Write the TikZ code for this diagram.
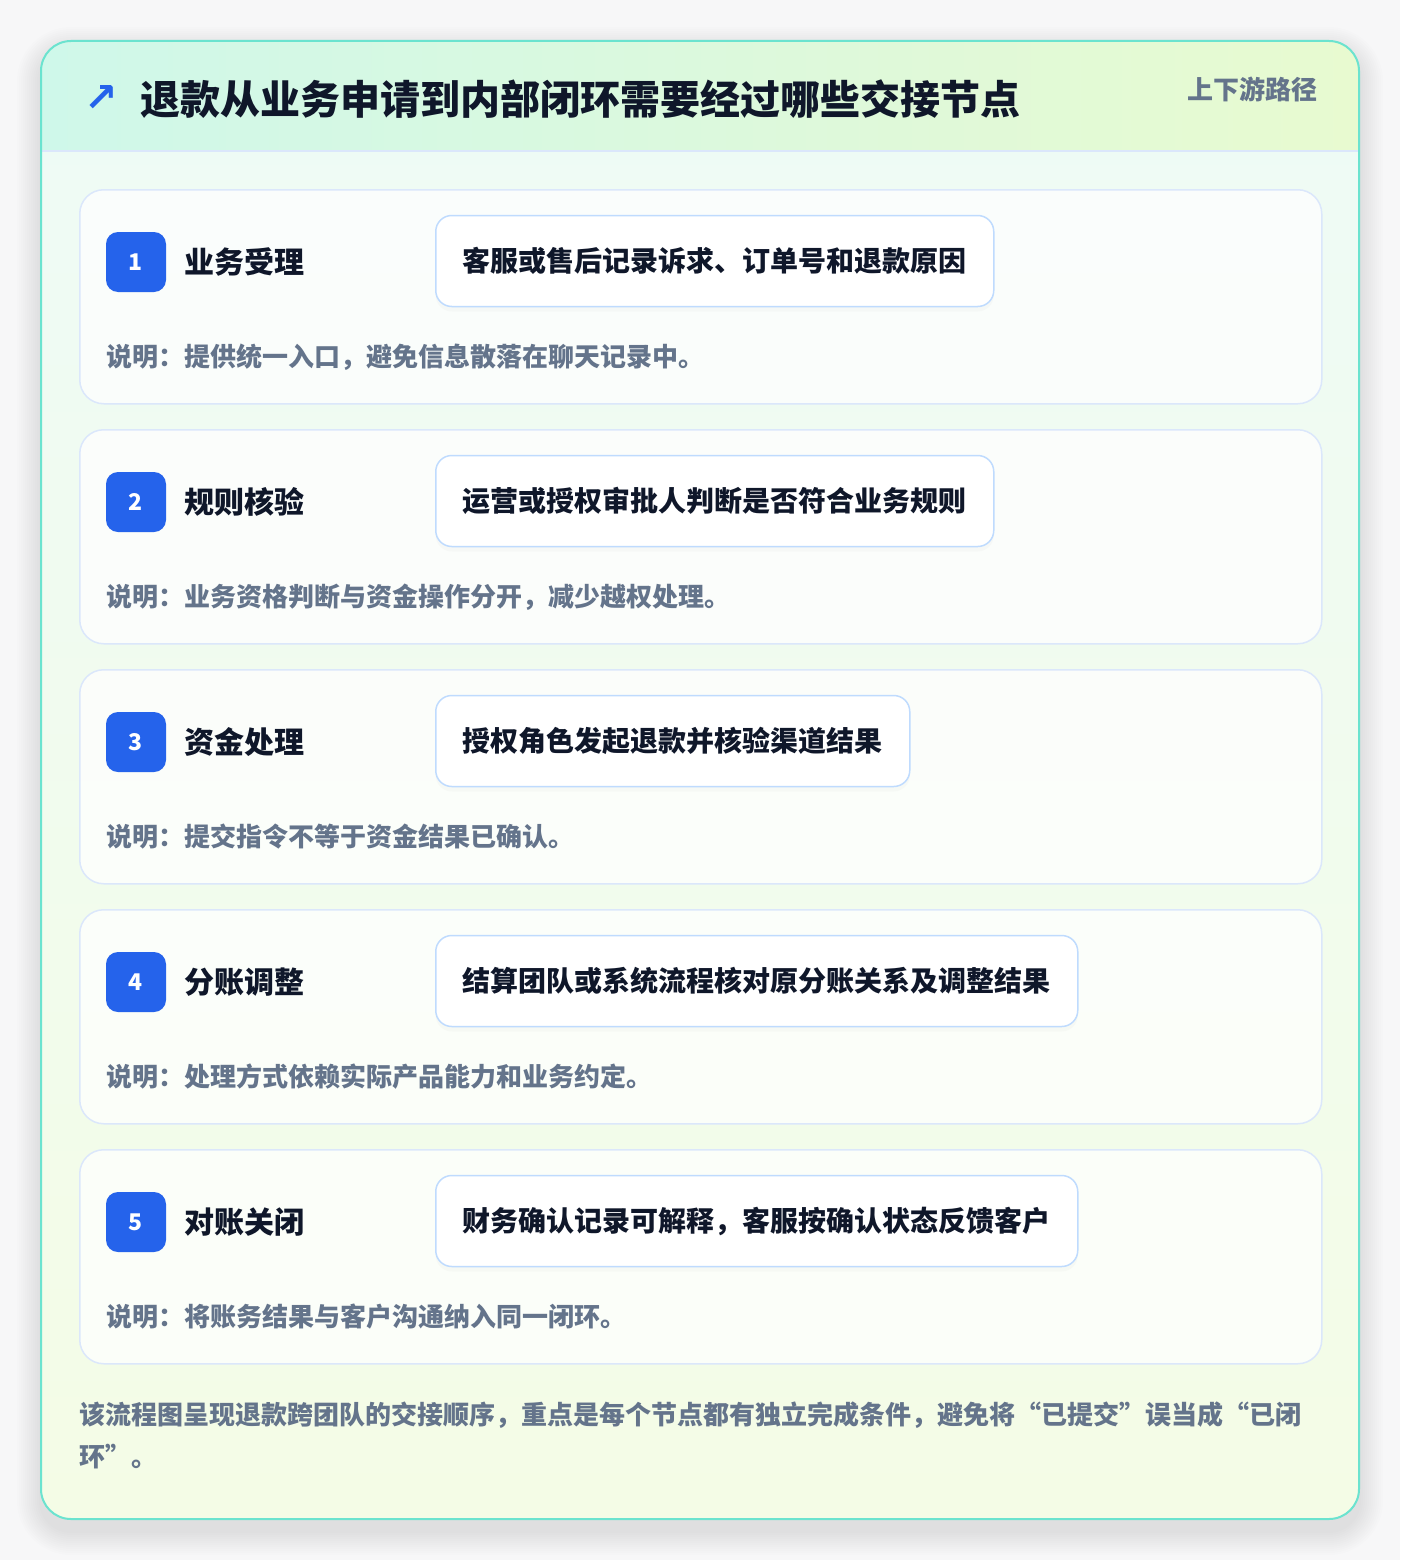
\documentclass[tikz,border=0pt]{standalone}
\usepackage{fontspec}
\setmainfont{Noto Sans CJK SC}
\newfontfamily\symfont{DejaVu Sans}
\usetikzlibrary{positioning,shadows}

\definecolor{ink}{HTML}{0F172A}
\definecolor{muted}{HTML}{64748B}
\definecolor{brand}{HTML}{2563EB}
\definecolor{edge}{HTML}{DBE7FB}
\definecolor{boxedge}{HTML}{BFDBFE}
\definecolor{rim}{HTML}{6BE3CF}
\definecolor{page}{HTML}{F7F7F8}
\definecolor{headl}{HTML}{CFF8EA}
\definecolor{headr}{HTML}{E8FAD0}
\definecolor{bodytop}{HTML}{EEFBF6}
\definecolor{bodybot}{HTML}{F4FCE6}

\begin{document}
\begin{tikzpicture}[x=1pt, y=-1pt,
    card/.style = {draw=edge, line width=1.5pt, fill=white, fill opacity=0.75, rounded corners=24pt, minimum width=1242pt, minimum height=214pt, anchor=north west},
    badge/.style = {fill=brand, rounded corners=12pt, minimum size=60pt, inner sep=0pt, text=white, font=\fontsize{23}{23}\selectfont\bfseries},
    stepname/.style = {inner sep=0pt, text=ink, font=\fontsize{30}{30}\selectfont\bfseries},
    action/.style = {anchor=west, draw=boxedge, line width=1.5pt, fill=white, rounded corners=16pt, minimum height=91pt, inner xsep=27pt, text=ink, font=\fontsize{28}{28}\selectfont\bfseries, drop shadow={opacity=0.035, shadow xshift=0pt, shadow yshift=-5pt}},
    note/.style = {anchor=west, inner sep=0pt, text=muted, font=\fontsize{26}{26}\selectfont\bfseries}]

    % page and soft shadow
    \fill[page] (0,0) rectangle (1400,1560);
    \useasboundingbox (0,0) rectangle (1400,1560);
    \foreach \s [evaluate=\s as \r using 30+\s] in {2,4,...,24}
        \fill[black, opacity=0.007, rounded corners=\r pt] (41-\s,51-\s) rectangle (1359+\s,1531+\s);

    % outer card
    \begin{scope}
        \path[clip, rounded corners=30pt] (41,41) rectangle (1359,1519);
        \shade[top color=bodytop, bottom color=bodybot] (41,41) rectangle (1359,1519);
        \shade[left color=headl, right color=headr] (41,41) rectangle (1359,151);
    \end{scope}
    \draw[edge, line width=1.5pt] (41,151) -- (1359,151);
    \draw[rim, line width=2pt, rounded corners=30pt] (41,41) rectangle (1359,1519);

    % header
    \node[text=brand, font=\symfont\fontsize{40}{40}\selectfont\bfseries] (icon) at (101,99) {↗};
    \node[anchor=west, inner sep=0pt, text=ink, font=\fontsize{40}{40}\selectfont\bfseries] (title) at (140,99) {退款从业务申请到内部闭环需要经过哪些交接节点};
    \node[anchor=east, inner sep=0pt, text=muted, font=\fontsize{26}{26}\selectfont\bfseries] (tag) at (1318,89) {上下游路径};

    % steps
    \foreach \i/\name/\act/\desc in {
        1/{业务受理}/{客服或售后记录诉求、订单号和退款原因}/{说明：提供统一入口，避免信息散落在聊天记录中。},
        2/{规则核验}/{运营或授权审批人判断是否符合业务规则}/{说明：业务资格判断与资金操作分开，减少越权处理。},
        3/{资金处理}/{授权角色发起退款并核验渠道结果}/{说明：提交指令不等于资金结果已确认。},
        4/{分账调整}/{结算团队或系统流程核对原分账关系及调整结果}/{说明：处理方式依赖实际产品能力和业务约定。},
        5/{对账关闭}/{财务确认记录可解释，客服按确认状态反馈客户}/{说明：将账务结果与客户沟通纳入同一闭环。}}
    {
        \pgfmathsetmacro\ct{189+240*(\i-1)}
        \node[card] (card\i) at (79,\ct) {};
        \node[badge] (badge\i) at (136,\ct+73) {\i};
        \node[stepname, right=18pt of badge\i] (name\i) {\name};
        \node[action] (act\i) at (435,\ct+72) {\act};
        \node[note] (note\i) at (106,\ct+168) {\desc};
    }

    % closing remark
    \node[anchor=north west, inner sep=0pt, align=left, text=muted, font=\fontsize{26}{42}\selectfont\bfseries] (summary) at (79,1402) {该流程图呈现退款跨团队的交接顺序，重点是每个节点都有独立完成条件，避免将“已提交”误当成“已闭\\环”。};

\end{tikzpicture}
\end{document}
